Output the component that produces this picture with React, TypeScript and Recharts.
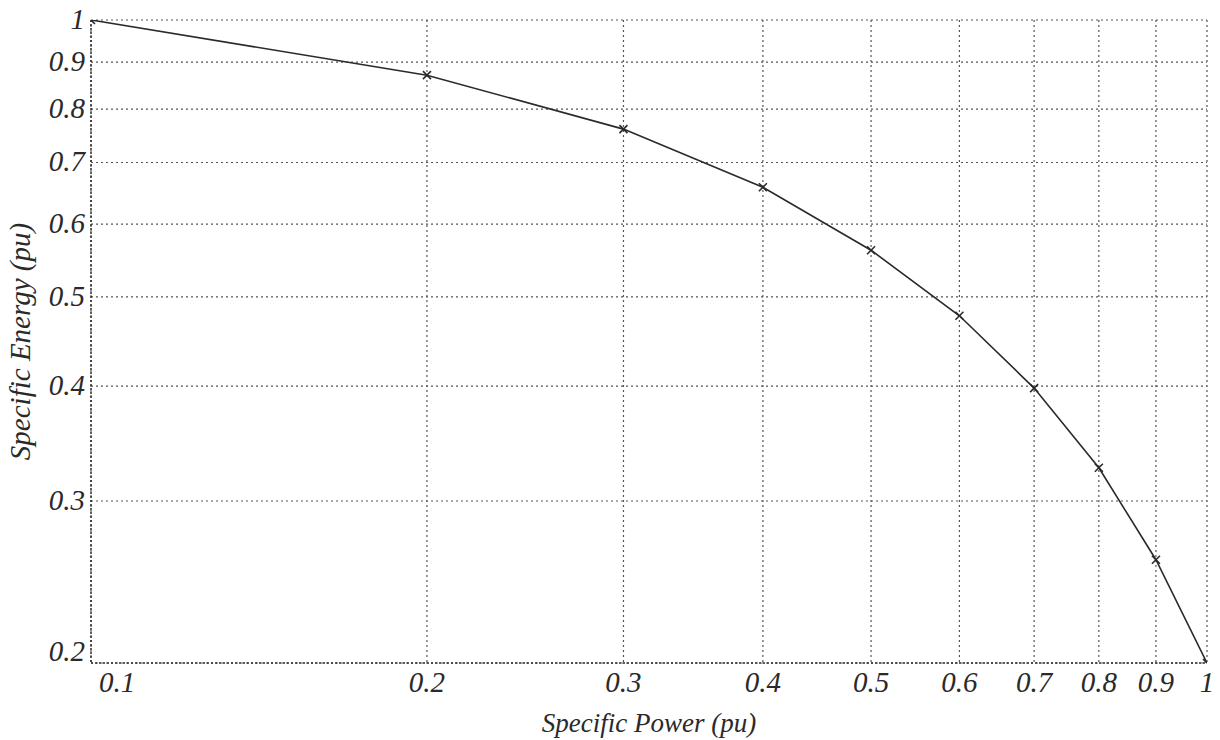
import React from "react";
import { LineChart, Line, XAxis, YAxis, CartesianGrid, Label } from "recharts";

const specificPower = [0.1, 0.2, 0.3, 0.4, 0.5, 0.6, 0.7, 0.8, 0.9, 1];
const specificEnergy = [1, 0.871, 0.761, 0.658, 0.562, 0.477, 0.398, 0.326, 0.259, 0.2];

const xTicks = [0.1, 0.2, 0.3, 0.4, 0.5, 0.6, 0.7, 0.8, 0.9, 1];
const yTicks = [0.2, 0.3, 0.4, 0.5, 0.6, 0.7, 0.8, 0.9, 1];

const data = specificPower.map((p, i) => ({ power: p, energy: specificEnergy[i] }));

const font = "'Liberation Serif', 'Times New Roman', serif";
const ink = "#2a2a2a";

const XTick = (props: any) => {
  const { x, y, payload } = props;
  const shift = payload.value === 0.1 ? 26 : 0;
  return (
    <text
      x={x + shift}
      y={y + 21}
      textAnchor="middle"
      fontFamily={font}
      fontStyle="italic"
      fontSize={29}
      fill={ink}
    >
      {String(payload.value)}
    </text>
  );
};

const YTick = (props: any) => {
  const { x, y, payload } = props;
  const dy = payload.value === 0.2 ? -2 : 9;
  return (
    <text
      x={x + 2}
      y={y + dy}
      textAnchor="end"
      fontFamily={font}
      fontStyle="italic"
      fontSize={29}
      fill={ink}
    >
      {String(payload.value)}
    </text>
  );
};

const CrossDot = (props: any) => {
  const { cx, cy } = props;
  if (cx == null || cy == null) return null;
  const s = 4;
  return (
    <g stroke={ink} strokeWidth={1.6}>
      <line x1={cx - s} y1={cy - s} x2={cx + s} y2={cy + s} />
      <line x1={cx - s} y1={cy + s} x2={cx + s} y2={cy - s} />
    </g>
  );
};

export default function App() {
  return (
    <div style={{ position: "absolute", left: 0, top: 0, width: 1220, height: 740, background: "#fff" }}>
      <LineChart
        width={1220}
        height={740}
        data={data}
        margin={{ top: 20, right: 13, left: 0, bottom: 0 }}
      >
        <CartesianGrid stroke="#555" strokeDasharray="2 3" strokeWidth={1.2} />
        <XAxis
          dataKey="power"
          type="number"
          scale="log"
          domain={[0.1, 1]}
          ticks={xTicks}
          interval={0}
          allowDataOverflow
          height={77}
          tickLine={false}
          axisLine={{ stroke: ink, strokeDasharray: "2 2", strokeWidth: 1.5 }}
          tick={<XTick />}
        >
          <Label
            value="Specific Power (pu)"
            position="insideBottom"
            offset={8}
            fontFamily={font}
            fontStyle="italic"
            fontSize={27}
            fill={ink}
          />
        </XAxis>
        <YAxis
          dataKey="energy"
          type="number"
          scale="log"
          domain={[0.2, 1]}
          ticks={yTicks}
          interval={0}
          allowDataOverflow
          width={91}
          tickLine={false}
          axisLine={{ stroke: ink, strokeDasharray: "2 2", strokeWidth: 1.5 }}
          tick={<YTick />}
        >
          <Label
            value="Specific Energy (pu)"
            angle={-90}
            position="insideLeft"
            offset={20}
            style={{ textAnchor: "middle" }}
            fontFamily={font}
            fontStyle="italic"
            fontSize={29}
            fill={ink}
          />
        </YAxis>
        <Line
          dataKey="energy"
          type="linear"
          stroke={ink}
          strokeWidth={1.6}
          dot={<CrossDot />}
          activeDot={false}
          isAnimationActive={false}
        />
      </LineChart>
    </div>
  );
}
